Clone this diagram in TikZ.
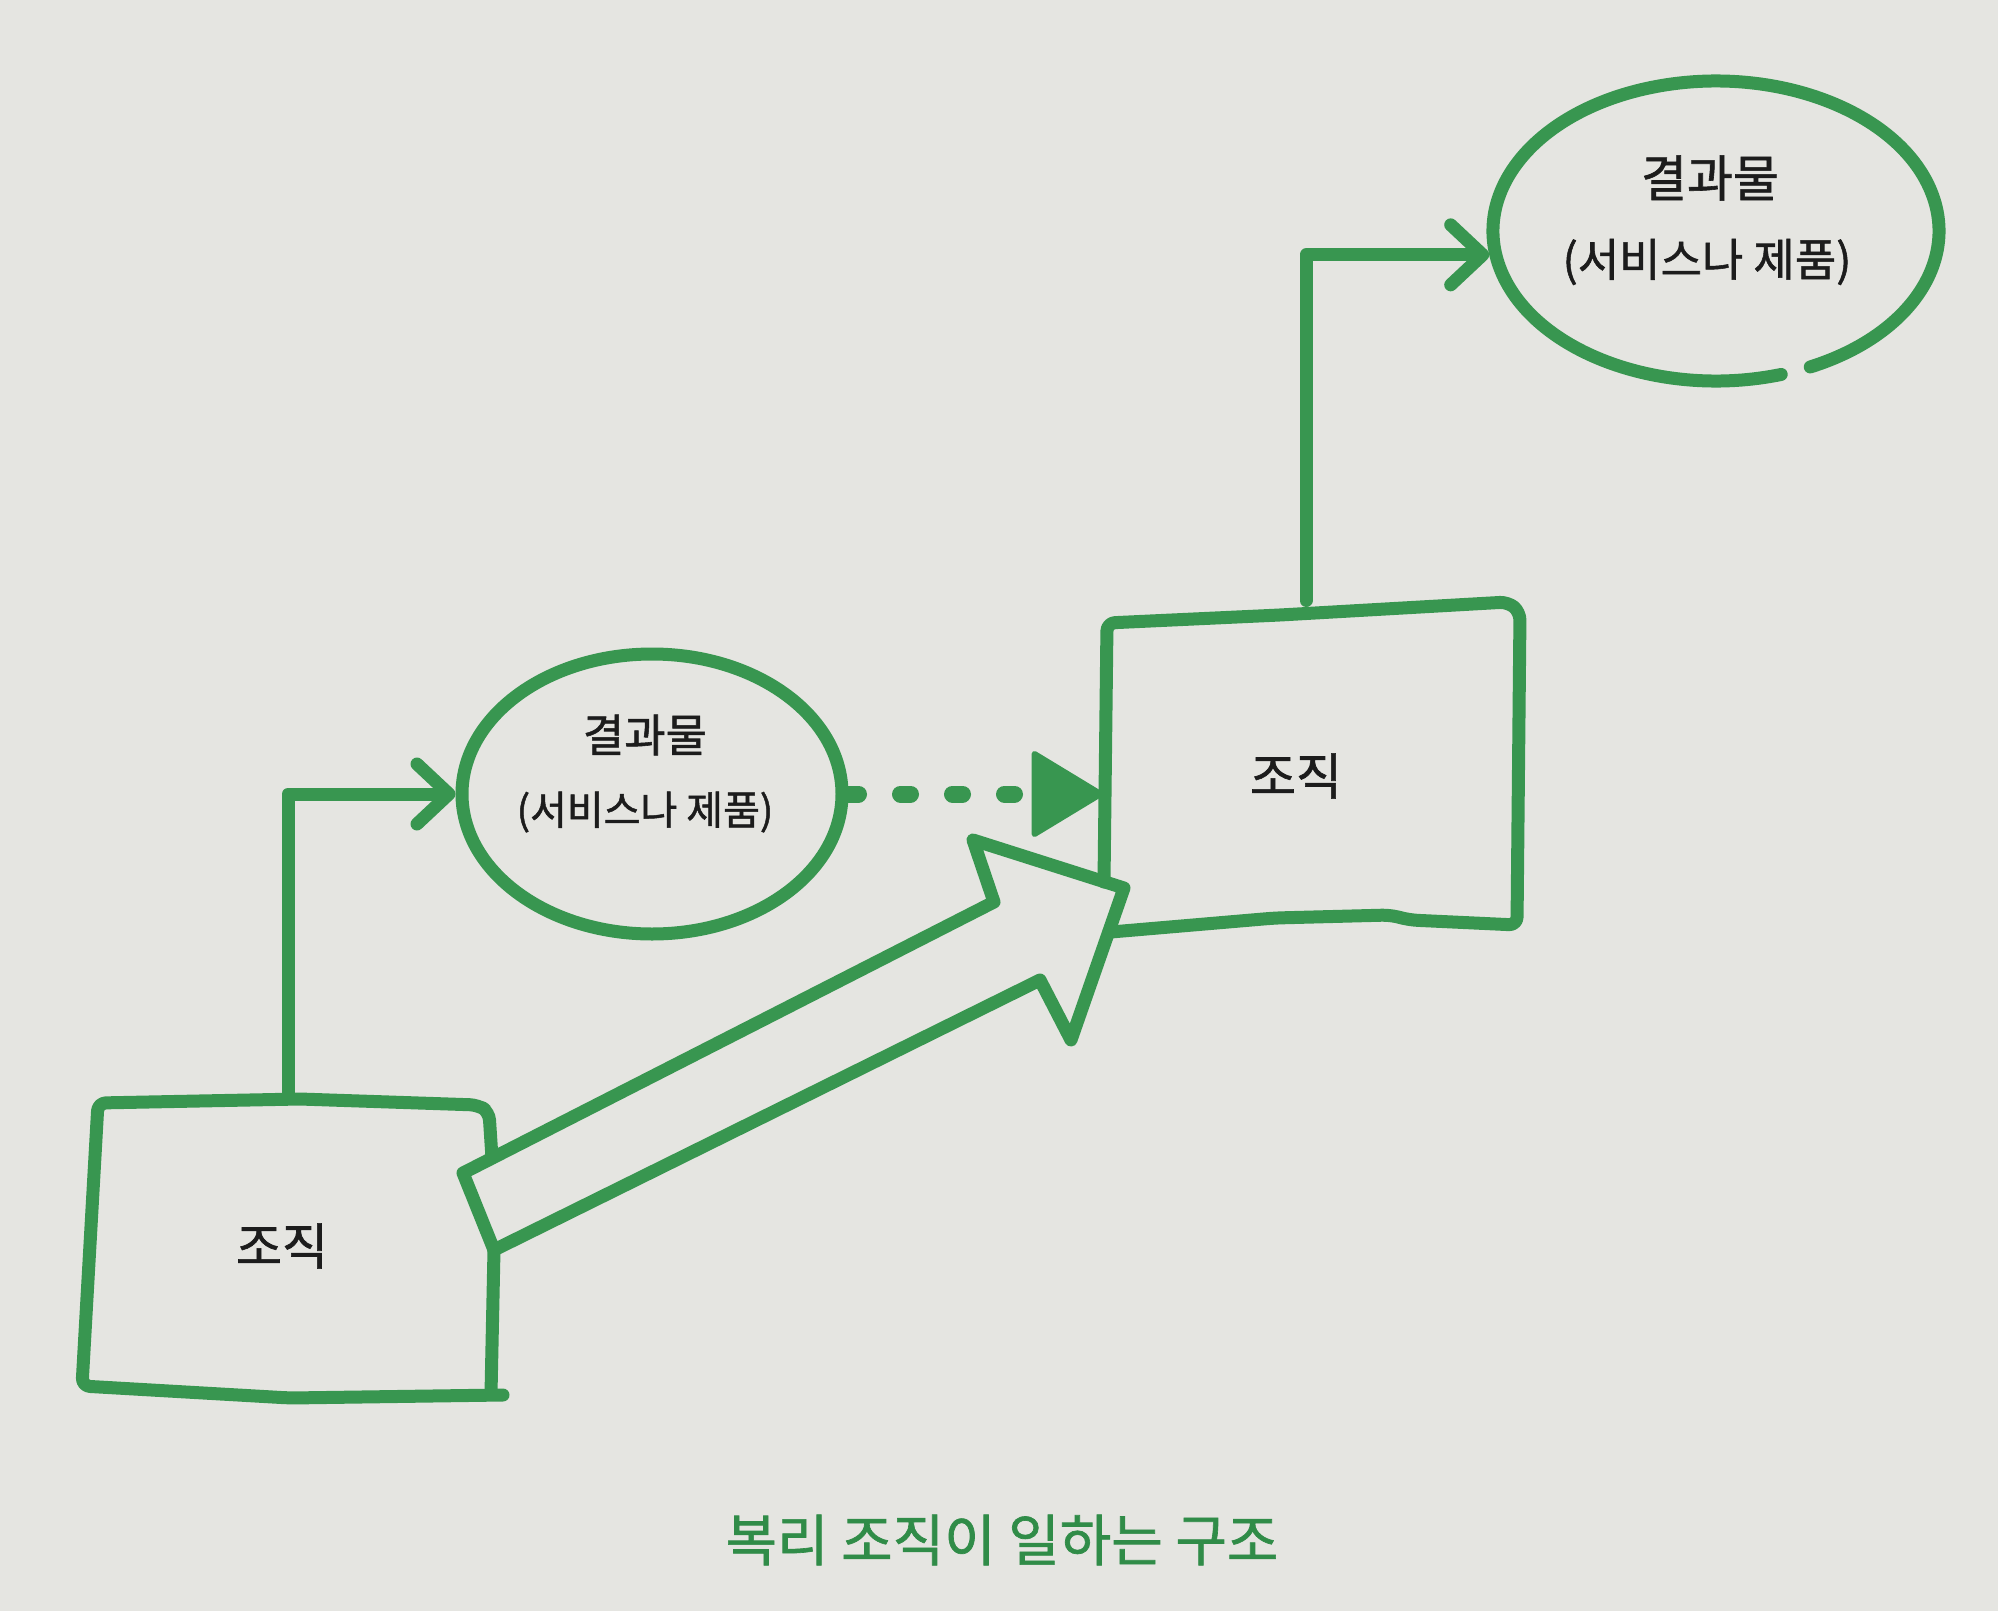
\documentclass[tikz,border=0pt]{standalone}
\usepackage{fontspec}
\setmainfont{Noto Sans CJK KR}
\newfontfamily\labelfont{Noto Sans CJK KR}[FakeBold=1.2]
\usetikzlibrary{shapes.geometric,arrows.meta,calc}
\definecolor{pen}{RGB}{56,150,80}
\definecolor{capgreen}{RGB}{48,140,72}
\definecolor{paper}{RGB}{229,229,225}
\definecolor{ink}{RGB}{28,28,28}
\begin{document}
\begin{tikzpicture}[x=1pt,y=-1pt,
  stroke/.style={draw=pen, line width=13pt, line cap=round, line join=round},
  hidden/.style={draw=none, inner sep=0pt, outer sep=6.5pt},
  lbl/.style={text=ink, inner sep=0pt, font=\labelfont\fontsize{50}{55}\selectfont},
  sublbl/.style={text=ink, inner sep=0pt, font=\labelfont\fontsize{45}{50}\selectfont},
  lblsmall/.style={text=ink, inner sep=0pt, font=\labelfont\fontsize{45}{50}\selectfont},
  sublblsmall/.style={text=ink, inner sep=0pt, font=\labelfont\fontsize{40}{45}\selectfont},
  barb/.style={-{Straight Barb[length=32pt,width=60pt,round]}}]
\fill[paper] (0,0) rectangle (1998,1611);
\useasboundingbox (0,0) rectangle (1998,1611);

% node frames
\node[hidden, rectangle, minimum width=400pt, minimum height=295pt] (box1) at (290,1250) {};
\node[hidden, ellipse, minimum width=380pt, minimum height=280pt] (circ1) at (652,794) {};
\node[hidden, rectangle, minimum width=412pt, minimum height=320pt] (box2) at (1313,767) {};
\node[hidden, ellipse, minimum width=446pt, minimum height=300pt] (circ2) at (1716,231) {};

% box 1 outline (hand drawn)
\draw[stroke, rounded corners=8pt] (492,1158) -- (489,1112) -- (478,1105) -- (300,1099) -- (98,1103) -- (82,1386) -- (290,1398) -- (503,1395);
\draw[stroke] (494,1250) -- (491,1394);

% circle 1
\draw[stroke] (circ1.center) ellipse[x radius=190, y radius=140];

% box 2 outline
\draw[stroke, rounded corners=8pt] (1104,882) -- (1107,623) -- (1280,615) -- (1508,602) -- (1520,612) -- (1517,925) -- (1410,920) -- (1390,915) -- (1275,918) -- (1111,932);

% circle 2 (with small gap)
\draw[stroke] ($(circ2.center)+(73:223 and 150)$) arc[start angle=73, end angle=425, x radius=223, y radius=150];

% labels
\node[lblsmall] (t1a) at (645,735) {결과물};
\node[sublblsmall] (t1b) at (645,812) {(서비스나 제품)};
\node[lbl] (t2a) at (1710,178) {결과물};
\node[sublbl] (t2b) at (1707,262) {(서비스나 제품)};
\node[lbl] (o1) at (282,1246) {조직};
\node[lbl] (o2) at (1296,776) {조직};
\node[text=capgreen, inner sep=0pt, font=\labelfont\fontsize{56}{60}\selectfont] (cap) at (1002,1540) {복리 조직이 일하는 구조};

% connectors
\draw[stroke, barb] ([xshift=-2pt]box1.north) |- (circ1.west);
\draw[stroke, barb] ([xshift=-7pt]box2.north) |- (circ2.186);

% dotted arrow
\coordinate (dtip) at (box2.west |- circ1.east);
\draw[pen, line width=17pt, line cap=round, dash pattern=on 10pt off 42pt] (circ1.east) -- ($(dtip)+(-66,0)$);
\fill[pen, draw=pen, line width=6pt, line join=round] (dtip) -- ++(-66,-40) -- ++(0,80) -- cycle;

% big hollow arrow
\coordinate (T1) at (463,1173);
\coordinate (N1) at (994,902);
\coordinate (B1) at (973,840);
\coordinate (P)  at (1124,888);
\coordinate (B2) at (1071,1040);
\coordinate (N2) at (1040,980);
\coordinate (T2) at (494,1250);
\draw[stroke] (T1) -- (N1) -- (B1) -- (P) -- (B2) -- (N2) -- (T2) -- cycle;
\end{tikzpicture}
\end{document}
